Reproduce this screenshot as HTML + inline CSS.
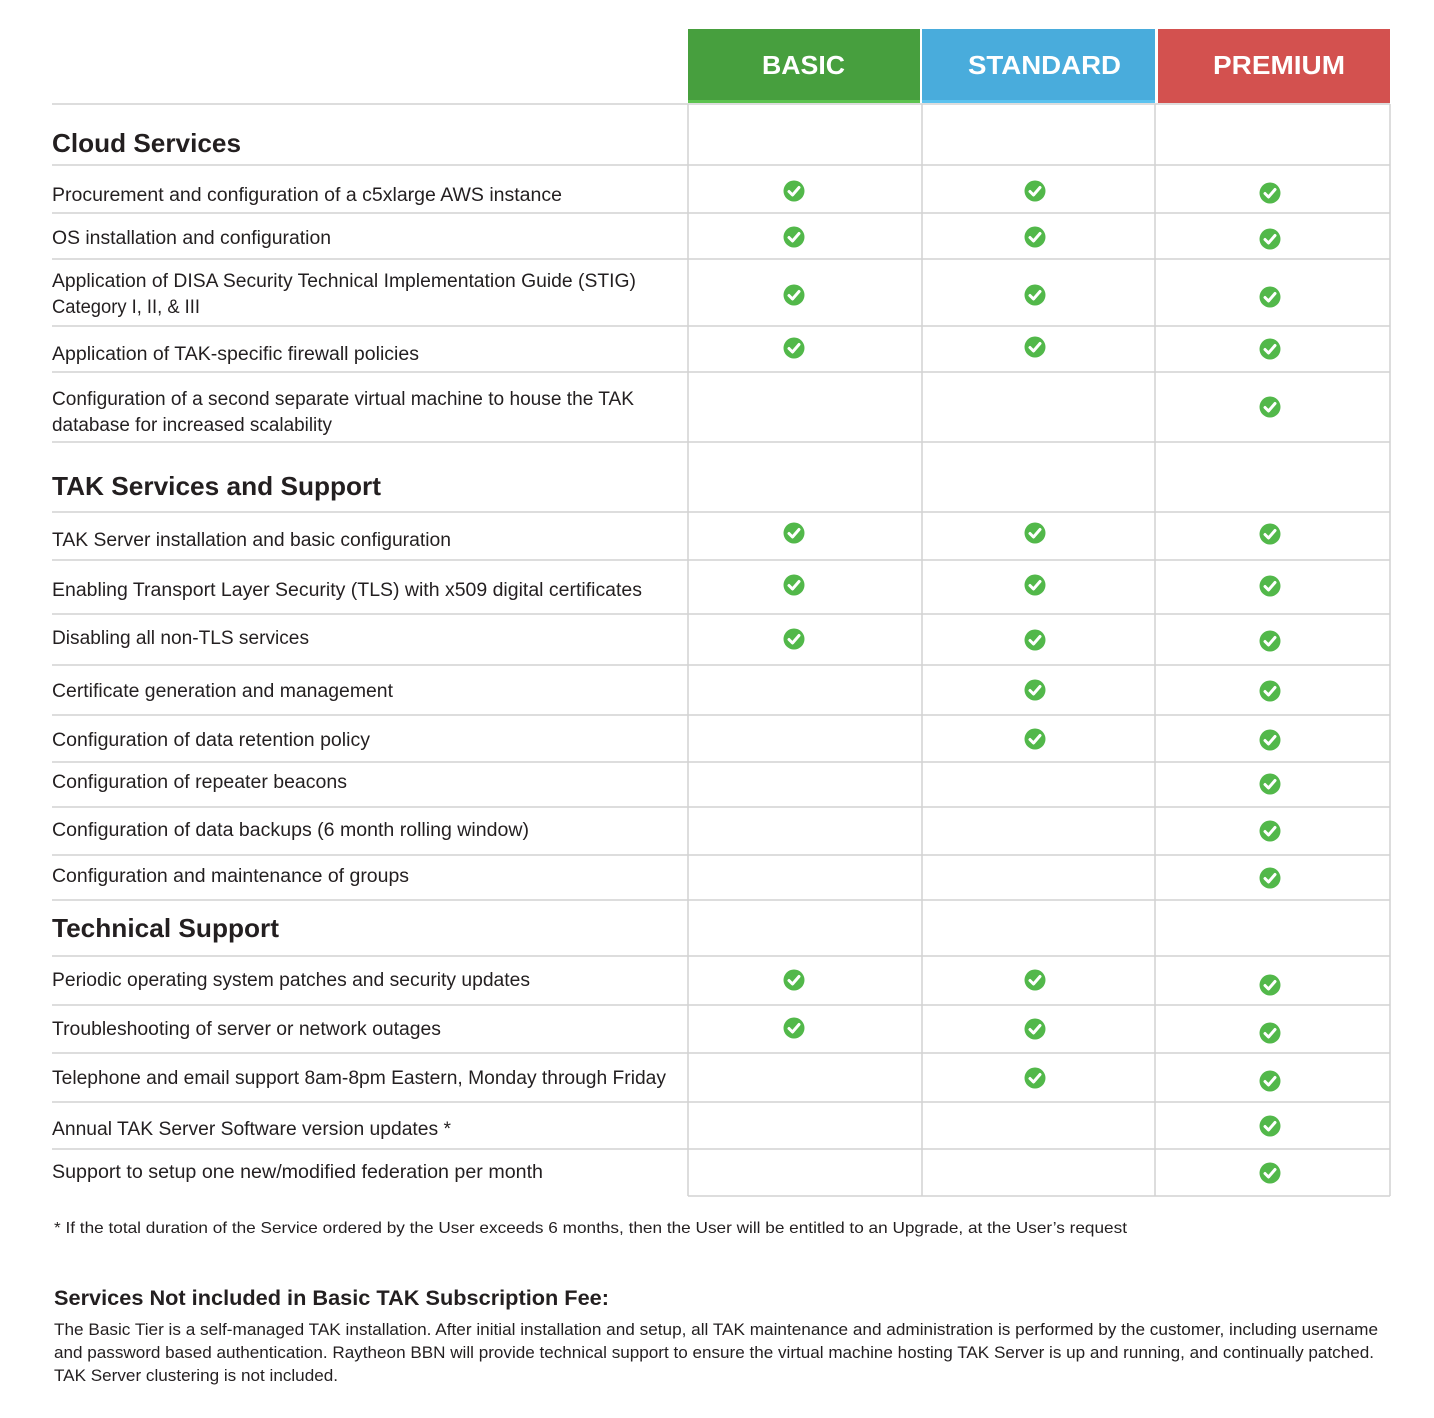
<!DOCTYPE html>
<html><head><meta charset="utf-8"><style>
html,body{margin:0;padding:0;background:#fff}
svg{display:block}
text{font-family:"Liberation Sans",sans-serif;fill:#231f20}
</style></head><body>
<svg width="1434" height="1418" viewBox="0 0 1434 1418" xmlns="http://www.w3.org/2000/svg">
<defs>
<g id="ck"><circle cx="0" cy="0" r="10.5" fill="#52b84a"/><path d="M-5,0.5 L-1.5,4 L5,-3.5" stroke="#fff" stroke-width="3" fill="none" stroke-linecap="round" stroke-linejoin="round"/></g>
</defs>
<!-- header -->
<rect x="688" y="29" width="232" height="74" fill="#479f3e"/>
<rect x="922" y="29" width="233" height="74" fill="#49acdc"/>
<rect x="1158" y="29" width="232" height="74" fill="#d3514f"/>
<rect x="688" y="100" width="232" height="3" fill="#5cc34f"/>
<rect x="922" y="100" width="233" height="3" fill="#5bc2ef"/>
<g font-weight="bold" font-size="26">
<text x="762" y="74" textLength="83" lengthAdjust="spacingAndGlyphs" style="fill:#fff">BASIC</text>
<text x="968" y="74" textLength="153" lengthAdjust="spacingAndGlyphs" style="fill:#fff">STANDARD</text>
<text x="1213" y="74" textLength="132" lengthAdjust="spacingAndGlyphs" style="fill:#fff">PREMIUM</text>
</g>
<!-- grid -->
<g stroke="#d2d2d2" stroke-width="1.5">
<line x1="52" y1="104" x2="1390" y2="104"/>
<line x1="52" y1="165" x2="1390" y2="165"/>
<line x1="52" y1="213" x2="1390" y2="213"/>
<line x1="52" y1="259" x2="1390" y2="259"/>
<line x1="52" y1="326" x2="1390" y2="326"/>
<line x1="52" y1="372" x2="1390" y2="372"/>
<line x1="52" y1="442" x2="1390" y2="442"/>
<line x1="52" y1="512" x2="1390" y2="512"/>
<line x1="52" y1="560" x2="1390" y2="560"/>
<line x1="52" y1="614" x2="1390" y2="614"/>
<line x1="52" y1="665" x2="1390" y2="665"/>
<line x1="52" y1="715" x2="1390" y2="715"/>
<line x1="52" y1="762" x2="1390" y2="762"/>
<line x1="52" y1="807" x2="1390" y2="807"/>
<line x1="52" y1="855" x2="1390" y2="855"/>
<line x1="52" y1="900" x2="1390" y2="900"/>
<line x1="52" y1="956" x2="1390" y2="956"/>
<line x1="52" y1="1005" x2="1390" y2="1005"/>
<line x1="52" y1="1053" x2="1390" y2="1053"/>
<line x1="52" y1="1102" x2="1390" y2="1102"/>
<line x1="52" y1="1149" x2="1390" y2="1149"/>
<line x1="688" y1="1196" x2="1390" y2="1196"/>
<line x1="688" y1="104" x2="688" y2="1196"/>
<line x1="922" y1="104" x2="922" y2="1196"/>
<line x1="1155" y1="104" x2="1155" y2="1196"/>
<line x1="1390" y1="104" x2="1390" y2="1196"/>
</g>
<!-- headings -->
<g font-weight="bold" font-size="26">
<text x="52" y="152" textLength="189" lengthAdjust="spacingAndGlyphs">Cloud Services</text>
<text x="52" y="495" textLength="329" lengthAdjust="spacingAndGlyphs">TAK Services and Support</text>
<text x="52" y="937" textLength="227" lengthAdjust="spacingAndGlyphs">Technical Support</text>
</g>
<!-- rows -->
<g font-size="19" lengthAdjust="spacingAndGlyphs">
<text x="52" y="201" textLength="510" lengthAdjust="spacingAndGlyphs">Procurement and configuration of a c5xlarge AWS instance</text>
<text x="52" y="244" textLength="279" lengthAdjust="spacingAndGlyphs">OS installation and configuration</text>
<text x="52" y="287" textLength="584" lengthAdjust="spacingAndGlyphs">Application of DISA Security Technical Implementation Guide (STIG)</text>
<text x="52" y="313" textLength="148" lengthAdjust="spacingAndGlyphs">Category I, II, &amp; III</text>
<text x="52" y="360" textLength="367" lengthAdjust="spacingAndGlyphs">Application of TAK-specific firewall policies</text>
<text x="52" y="405" textLength="582" lengthAdjust="spacingAndGlyphs">Configuration of a second separate virtual machine to house the TAK</text>
<text x="52" y="431" textLength="280" lengthAdjust="spacingAndGlyphs">database for increased scalability</text>
<text x="52" y="546" textLength="399" lengthAdjust="spacingAndGlyphs">TAK Server installation and basic configuration</text>
<text x="52" y="596" textLength="590" lengthAdjust="spacingAndGlyphs">Enabling Transport Layer Security (TLS) with x509 digital certificates</text>
<text x="52" y="644" textLength="257" lengthAdjust="spacingAndGlyphs">Disabling all non-TLS services</text>
<text x="52" y="697" textLength="341" lengthAdjust="spacingAndGlyphs">Certificate generation and management</text>
<text x="52" y="746" textLength="318" lengthAdjust="spacingAndGlyphs">Configuration of data retention policy</text>
<text x="52" y="788" textLength="295" lengthAdjust="spacingAndGlyphs">Configuration of repeater beacons</text>
<text x="52" y="836" textLength="477" lengthAdjust="spacingAndGlyphs">Configuration of data backups (6 month rolling window)</text>
<text x="52" y="882" textLength="357" lengthAdjust="spacingAndGlyphs">Configuration and maintenance of groups</text>
<text x="52" y="986" textLength="478" lengthAdjust="spacingAndGlyphs">Periodic operating system patches and security updates</text>
<text x="52" y="1035" textLength="389" lengthAdjust="spacingAndGlyphs">Troubleshooting of server or network outages</text>
<text x="52" y="1084" textLength="614" lengthAdjust="spacingAndGlyphs">Telephone and email support 8am-8pm Eastern, Monday through Friday</text>
<text x="52" y="1135" textLength="399" lengthAdjust="spacingAndGlyphs">Annual TAK Server Software version updates *</text>
<text x="52" y="1178" textLength="491" lengthAdjust="spacingAndGlyphs">Support to setup one new/modified federation per month</text>
</g>
<!-- checks -->
<use href="#ck" x="794" y="191"/><use href="#ck" x="1035" y="191"/><use href="#ck" x="1270" y="193"/>
<use href="#ck" x="794" y="237"/><use href="#ck" x="1035" y="237"/><use href="#ck" x="1270" y="239"/>
<use href="#ck" x="794" y="295"/><use href="#ck" x="1035" y="295"/><use href="#ck" x="1270" y="297"/>
<use href="#ck" x="794" y="348"/><use href="#ck" x="1035" y="347"/><use href="#ck" x="1270" y="349"/>
<use href="#ck" x="1270" y="407"/>
<use href="#ck" x="794" y="533"/><use href="#ck" x="1035" y="533"/><use href="#ck" x="1270" y="534"/>
<use href="#ck" x="794" y="585"/><use href="#ck" x="1035" y="585"/><use href="#ck" x="1270" y="586"/>
<use href="#ck" x="794" y="639"/><use href="#ck" x="1035" y="640"/><use href="#ck" x="1270" y="641"/>
<use href="#ck" x="1035" y="690"/><use href="#ck" x="1270" y="691"/>
<use href="#ck" x="1035" y="739"/><use href="#ck" x="1270" y="740"/>
<use href="#ck" x="1270" y="784"/>
<use href="#ck" x="1270" y="831"/>
<use href="#ck" x="1270" y="878"/>
<use href="#ck" x="794" y="980"/><use href="#ck" x="1035" y="980"/><use href="#ck" x="1270" y="985"/>
<use href="#ck" x="794" y="1028"/><use href="#ck" x="1035" y="1029"/><use href="#ck" x="1270" y="1033"/>
<use href="#ck" x="1035" y="1078"/><use href="#ck" x="1270" y="1081"/>
<use href="#ck" x="1270" y="1126"/>
<use href="#ck" x="1270" y="1173"/>
<!-- footer -->
<text x="54" y="1233" font-size="16" textLength="1073" lengthAdjust="spacingAndGlyphs">* If the total duration of the Service ordered by the User exceeds 6 months, then the User will be entitled to an Upgrade, at the User’s request</text>
<text x="54" y="1305" font-size="21" font-weight="bold" textLength="555" lengthAdjust="spacingAndGlyphs">Services Not included in Basic TAK Subscription Fee:</text>
<text x="54" y="1335" font-size="17" textLength="1324" lengthAdjust="spacingAndGlyphs">The Basic Tier is a self-managed TAK installation. After initial installation and setup, all TAK maintenance and administration is performed by the customer, including username</text>
<text x="54" y="1358" font-size="17" textLength="1320" lengthAdjust="spacingAndGlyphs">and password based authentication. Raytheon BBN will provide technical support to ensure the virtual machine hosting TAK Server is up and running, and continually patched.</text>
<text x="54" y="1381" font-size="17" textLength="284" lengthAdjust="spacingAndGlyphs">TAK Server clustering is not included.</text>
</svg>
</body></html>
